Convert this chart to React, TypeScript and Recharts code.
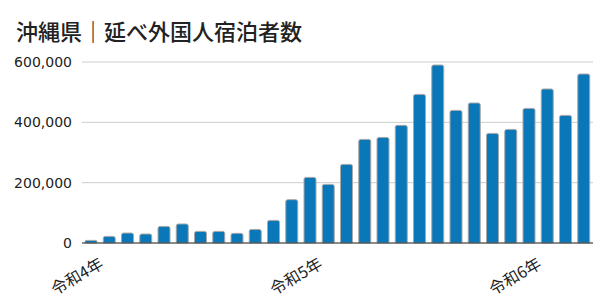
import React from 'react';
import { BarChart, Bar, XAxis, YAxis, CartesianGrid } from 'recharts';

const months: string[] = [
  '令和4年1月','令和4年2月','令和4年3月','令和4年4月','令和4年5月','令和4年6月',
  '令和4年7月','令和4年8月','令和4年9月','令和4年10月','令和4年11月','令和4年12月',
  '令和5年1月','令和5年2月','令和5年3月','令和5年4月','令和5年5月','令和5年6月',
  '令和5年7月','令和5年8月','令和5年9月','令和5年10月','令和5年11月','令和5年12月',
  '令和6年1月','令和6年2月','令和6年3月','令和6年4月',
];
const guests: number[] = [
  8600, 21900, 33000, 29800, 55000, 63000, 38500, 38500, 32000, 45000, 75000, 143600,
  217500, 194300, 260600, 343500, 350000, 390000, 492600, 590000, 439600, 464100, 363300, 376600,
  446200, 510500, 423000, 560200,
];
const yTicks: number[] = [0, 200000, 400000, 600000];
const title = '沖縄県｜延べ外国人宿泊者数';

const data = months.map((m, i) => ({ month: m, value: guests[i] }));

const NUM_FONT = '"DejaVu Sans", sans-serif';
const JP_FONT = '"Noto Sans CJK JP", sans-serif';

const XTick = (props: any) => {
  const { x, payload } = props;
  const v: string = payload.value;
  if (!v.endsWith('年1月')) return null;
  const label = v.replace('1月', '');
  const tx = x + 13.5;
  const ty = 267;
  return (
    <text x={tx} y={ty} textAnchor="end" fontSize={16} fill="#222" fontFamily={JP_FONT}
      transform={`rotate(-30, ${tx}, ${ty})`}>{label}</text>
  );
};

const YTick = (props: any) => {
  const { x, y, payload } = props;
  return (
    <text x={x} y={y} dy={5} textAnchor="end" fontSize={14} fill="#222" fontFamily={NUM_FONT}>
      {Number(payload.value).toLocaleString('en-US')}
    </text>
  );
};

export default function App() {
  return (
    <div style={{ position: 'fixed', left: 0, top: 0, width: 608, height: 305, background: '#fff' }}>
      <div style={{ position: 'absolute', left: 16, top: 19, fontSize: 22, lineHeight: '22px', fontWeight: 500,
        fontFamily: JP_FONT, color: '#222', whiteSpace: 'nowrap' }}>{title}</div>
      <BarChart width={608} height={305} data={data} margin={{ top: 62, right: 15, bottom: 0, left: 0 }}>
        <CartesianGrid vertical={false} stroke="#cccccc" />
        <XAxis dataKey="month" interval={0} tick={<XTick />} tickLine={false} height={62}
          axisLine={{ stroke: '#333', strokeWidth: 1 }} />
        <YAxis width={82} domain={[0, 600000]} ticks={yTicks} tick={<YTick />} tickLine={false}
          axisLine={false} tickSize={0} tickMargin={10} />
        <Bar dataKey="value" fill="#0a78b8" stroke="#a8a8a8" strokeWidth={1} barSize={12}
          radius={[2, 2, 0, 0]} isAnimationActive={false} />
      </BarChart>
    </div>
  );
}
